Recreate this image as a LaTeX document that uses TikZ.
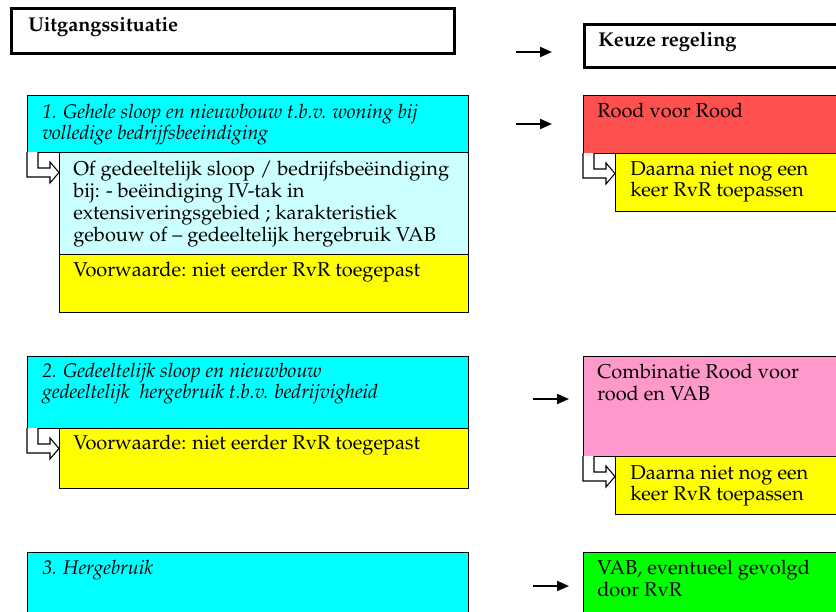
\documentclass[tikz,border=0pt]{standalone}
\usepackage[T1]{fontenc}
\usepackage{mathpazo}
\usetikzlibrary{arrows.meta}
\definecolor{cyanB}{HTML}{00FFFF}
\definecolor{lcyan}{HTML}{CCFFFF}
\definecolor{yel}{HTML}{FFFF00}
\definecolor{redB}{HTML}{FF5050}
\definecolor{pinkB}{HTML}{FF99CC}
\definecolor{greenB}{HTML}{00FF00}
\tikzset{
  wh/.style 2 args={minimum width=#1*0.75pt, minimum height=#2*0.75pt},
  box/.style={draw=black, line width=0.8pt, anchor=north west, inner sep=0pt, rectangle},
  thickbox/.style={draw=black, line width=2.4pt, fill=white, anchor=north west, inner sep=0pt, rectangle},
  txt/.style={anchor=north west, inner sep=0pt, align=left, font=\fontsize{15}{16.5}\selectfont},
  ytxt/.style={anchor=north west, inner sep=0pt, align=left, font=\fontsize{15}{16}\selectfont},
  itxt/.style={anchor=north west, inner sep=0pt, align=left, font=\fontsize{14.8}{14.7}\selectfont\itshape},
  btxt/.style={anchor=north west, inner sep=0pt, align=left, font=\fontsize{15}{16}\selectfont\bfseries},
  arr/.style={line width=1.5pt, -{Triangle[length=9pt,width=7.5pt]}},
  bent/.pic={\draw[line width=0.8pt, fill=white] (0,0) -- (0,25) -- (23,25) -- (23,31) -- (32,20.5) -- (23,10) -- (23,16) -- (11,16) -- (11,0);}
}
\begin{document}
\begin{tikzpicture}[x=0.75pt,y=-0.75pt]
\useasboundingbox (0,0) rectangle (836,611);
\clip (0,0) rectangle (836,611);
\fill[white] (0,0) rectangle (836,611);
% header boxes
\node[thickbox, wh={443}{45}] (U) at (10,7) {};
\node[thickbox, wh={262}{43}] (K) at (583,23) {};
\node[btxt] (Ut) at (28,17) {Uitgangssituatie};
\node[btxt] (Kt) at (598,32) {Keuze regeling};
% row 1
\node[box, fill=cyanB, wh={441}{57}] (C1) at (27,95) {};
\node[box, fill=lcyan, wh={409}{102}] (L1) at (59,152) {};
\node[box, fill=yel, wh={409}{58}] (Y1) at (59,254) {};
\node[box, fill=redB, wh={262}{58}] (R) at (583,95) {};
\node[box, fill=yel, wh={230}{58}] (YR) at (615,153) {};
\pic at (27,152) {bent};
\pic at (583,153) {bent};
\node[itxt] (C1t) at (42,104) {1. Gehele sloop en nieuwbouw t.b.v. woning bij\\volledige bedrijfsbeeindiging};
\node[txt] (L1t) at (73,161) {Of gedeeltelijk sloop / bedrijfsbe\"eindiging\\bij: - be\"eindiging IV-tak in\\extensiveringsgebied ; karakteristiek\\gebouw of -- gedeeltelijk hergebruik VAB};
\node[txt] (Y1t) at (73,262) {Voorwaarde: niet eerder RvR toegepast};
\node[txt] (Rt) at (597,103) {Rood voor Rood};
\node[ytxt] (YRt) at (630,161) {Daarna niet nog een\\keer RvR toepassen};
% row 2
\node[box, fill=cyanB, wh={441}{72}] (C2) at (27,356) {};
\node[box, fill=yel, wh={409}{60}] (Y2) at (59,428) {};
\node[box, fill=pinkB, wh={262}{100}] (P) at (583,356) {};
\node[box, fill=yel, wh={230}{58}] (YP) at (615,456) {};
\pic at (27,428) {bent};
\pic at (583,456) {bent};
\node[itxt] (C2t) at (42,363) {2. Gedeeltelijk sloop en nieuwbouw\\gedeeltelijk\ \ hergebruik t.b.v. bedrijvigheid};
\node[txt] (Y2t) at (73,435) {Voorwaarde: niet eerder RvR toegepast};
\node[ytxt] (Pt) at (597,364) {Combinatie Rood voor\\rood en VAB};
\node[ytxt] (YPt) at (630,465) {Daarna niet nog een\\keer RvR toepassen};
% row 3
\node[box, fill=cyanB, wh={441}{70}] (C3) at (27,552) {};
\node[box, fill=greenB, wh={262}{70}] (G) at (583,552) {};
\node[itxt] (C3t) at (42,560) {3. Hergebruik};
\node[ytxt] (Gt) at (597,560) {VAB, eventueel gevolgd\\door RvR};
% arrows
\coordinate (a1s) at (516,52); \coordinate (a1e) at (552,52);
\coordinate (a2s) at (516,124); \coordinate (a2e) at (552,124);
\coordinate (a3s) at (533,399); \coordinate (a3e) at (569,399);
\coordinate (a4s) at (533,586); \coordinate (a4e) at (569,586);
\draw[arr] (a1s) -- (a1e);
\draw[arr] (a2s) -- (a2e);
\draw[arr] (a3s) -- (a3e);
\draw[arr] (a4s) -- (a4e);
\end{tikzpicture}
\end{document}
